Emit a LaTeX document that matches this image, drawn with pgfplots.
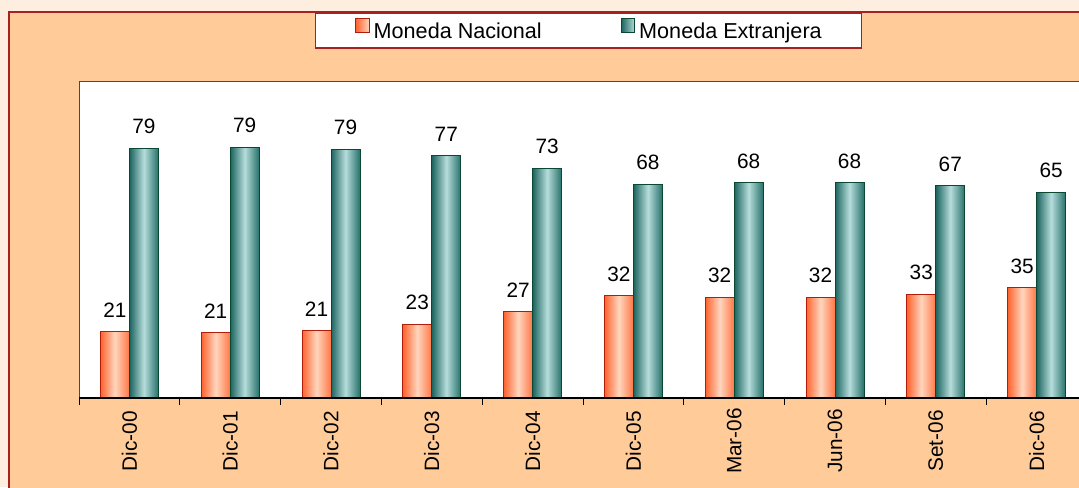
\documentclass[border=0pt]{standalone}
\usepackage{fontspec}
\setmainfont{Liberation Sans}
\usepackage{pgfplots}
\pgfplotsset{compat=1.18}

\definecolor{bgPeach}{RGB}{255,204,153}
\definecolor{bgOuter}{RGB}{253,238,224}
\definecolor{frameRed}{RGB}{168,32,32}
\definecolor{mnLeft}{RGB}{255,98,45}
\definecolor{mnMid}{RGB}{255,214,190}
\definecolor{mnRight}{RGB}{255,118,70}
\definecolor{mnBorder}{RGB}{176,30,10}
\definecolor{meLeft}{RGB}{28,100,95}
\definecolor{meMid}{RGB}{182,221,219}
\definecolor{meRight}{RGB}{38,112,106}
\definecolor{meBorder}{RGB}{10,72,50}

\newcommand{\chartfont}{\fontsize{10.4}{12}\selectfont}
\newcommand{\legendfont}{\fontsize{10.8}{12}\selectfont}

% one plot per bar so that every bar gets its own horizontal shading
\pgfplotsset{
    barbase/.style={ybar, bar width=14.5pt, line width=0.5pt, forget plot,
        nodes near coords, point meta=y},
    mn/.style={barbase, bar shift=-7.25pt, draw=mnBorder,
        left color=mnLeft, right color=mnRight, middle color=mnMid,
        every node near coord/.append style={xshift=-7.25pt}},
    me/.style={barbase, bar shift=7.25pt, draw=meBorder,
        left color=meLeft, right color=meRight, middle color=meMid,
        every node near coord/.append style={xshift=7.25pt}},
}

\begin{document}
\begin{tikzpicture}
% 1 px of the reference = 0.5pt
\useasboundingbox (0pt,0pt) rectangle (539.5pt,243.5pt);
\clip (0pt,0pt) rectangle (539.5pt,243.5pt);
\fill[bgOuter] (0pt,0pt) rectangle (539.5pt,243.5pt);
\filldraw[fill=bgPeach, draw=frameRed, line width=1pt] (4.5pt,-20pt) rectangle (600pt,237.5pt);

\begin{axis}[
    at={(39.5pt,44.5pt)}, anchor=south west,
    width=504pt, height=158pt, scale only axis,
    xmin=-0.5, xmax=9.5, ymin=0, ymax=100,
    axis background/.style={fill=white},
    axis line style={draw=none},
    ytick=\empty,
    xtick pos=lower,
    xtick={0,...,9},
    xticklabels={Dic-00,Dic-01,Dic-02,Dic-03,Dic-04,Dic-05,Mar-06,Jun-06,Set-06,Dic-06},
    major x tick style={draw=none},
    xticklabel style={yshift=-21.5pt, rotate=90, anchor=center, font=\chartfont, inner sep=0pt},
    extra x ticks={-0.5,0.5,...,9.5},
    extra x tick labels={},
    extra x tick style={tick align=outside, major tick length=3.5pt,
        major x tick style={draw=black, line width=0.5pt}},
    every node near coord/.append style={font=\chartfont, text=black, anchor=south, inner sep=0pt, yshift=7pt},
    /pgf/number format/.cd, fixed, precision=0, assume math mode=true, /pgfplots/.cd,
    legend columns=2,
    legend image code/.code={\draw[#1, line width=0.4pt] (0pt,0.2pt) rectangle (6.8pt,7pt);},
    legend style={at={(0.5055,1.163)}, anchor=center, draw=frameRed, fill=white, line width=0.6pt,
        inner xsep=20pt, inner ysep=2.6pt, font=\legendfont,
        nodes={inner sep=0pt, text height=7.8pt, text depth=2.3pt},
        /tikz/every odd column/.append style={column sep=2pt},
        /tikz/every even column/.append style={column sep=39.5pt}},
]
% Moneda Nacional
\addplot[mn] coordinates {(0,21.0)};
\addplot[mn] coordinates {(1,20.7)};
\addplot[mn] coordinates {(2,21.3)};
\addplot[mn] coordinates {(3,23.4)};
\addplot[mn] coordinates {(4,27.3)};
\addplot[mn] coordinates {(5,32.3)};
\addplot[mn] coordinates {(6,31.9)};
\addplot[mn] coordinates {(7,31.9)};
\addplot[mn] coordinates {(8,32.9)};
\addplot[mn] coordinates {(9,34.9)};
% Moneda Extranjera
\addplot[me] coordinates {(0,79.0)};
\addplot[me] coordinates {(1,79.3)};
\addplot[me] coordinates {(2,78.7)};
\addplot[me] coordinates {(3,76.6)};
\addplot[me] coordinates {(4,72.7)};
\addplot[me] coordinates {(5,67.7)};
\addplot[me] coordinates {(6,68.1)};
\addplot[me] coordinates {(7,68.1)};
\addplot[me] coordinates {(8,67.1)};
\addplot[me] coordinates {(9,65.1)};

\addlegendimage{draw=mnBorder, left color=mnLeft, right color=mnMid}
\addlegendentry{Moneda Nacional}
\addlegendimage{draw=meBorder, left color=meLeft, right color=meMid}
\addlegendentry{Moneda Extranjera}

\draw[frameRed, line width=0.5pt] (rel axis cs:0,0) -- (rel axis cs:0,1) -- (rel axis cs:1,1) -- (rel axis cs:1,0);
\draw[black, line width=0.6pt] (rel axis cs:0,0) -- (rel axis cs:1,0);
\end{axis}
\end{tikzpicture}
\end{document}
